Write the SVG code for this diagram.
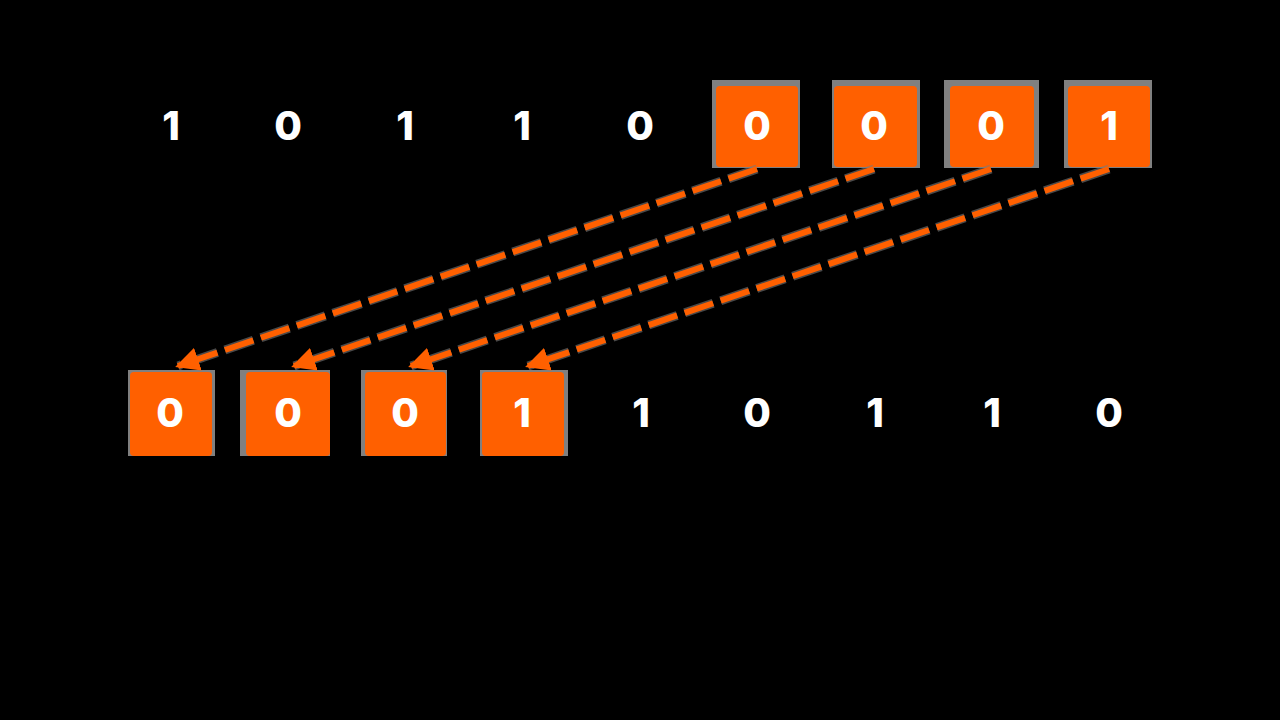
<svg xmlns="http://www.w3.org/2000/svg" width="1280" height="720" viewBox="0 0 1280 720">
<defs>
<style>
.bg{fill:#000}
.sh{fill:#808080}
.box{fill:#ff6000}
.t{font-family:Inter,"DejaVu Sans",sans-serif;font-weight:800;font-size:40px;fill:#fff;text-anchor:middle}
.ln{stroke:#ff6000;stroke-width:6;fill:none;stroke-dasharray:30 8}
.lns{stroke:#7a7a7a;stroke-width:9;fill:none;stroke-dasharray:30 8;opacity:0.6}
</style>
<marker id="ah" markerWidth="4" markerHeight="4" refX="3.5" refY="2" orient="auto" markerUnits="strokeWidth">
<path d="M0,0 L4,2 L0,4 Z" fill="#ff6000"/>
</marker>
</defs>
<rect class="bg" x="0" y="0" width="1280" height="720"/>
<g id="top-row">
<g id="t1"><text class="t" x="171" y="140">1</text></g>
<g id="t2"><text class="t" x="288" y="140">0</text></g>
<g id="t3"><text class="t" x="405" y="140">1</text></g>
<g id="t4"><text class="t" x="522" y="140">1</text></g>
<g id="t5"><text class="t" x="640" y="140">0</text></g>
<g id="t6"><rect class="sh" x="712" y="80" width="88" height="88"/><rect class="box" x="716" y="86" width="82" height="81" rx="4"/><text class="t" x="757" y="140">0</text></g>
<g id="t7"><rect class="sh" x="832" y="80" width="88" height="88"/><rect class="box" x="834" y="86" width="83" height="81" rx="4"/><text class="t" x="874" y="140">0</text></g>
<g id="t8"><rect class="sh" x="944" y="80" width="95" height="88"/><rect class="box" x="950" y="86" width="84" height="81" rx="4"/><text class="t" x="991" y="140">0</text></g>
<g id="t9"><rect class="sh" x="1064" y="80" width="88" height="88"/><rect class="box" x="1068" y="86" width="82" height="81" rx="4"/><text class="t" x="1109" y="140">1</text></g>
</g>
<g id="bottom-row">
<g id="b1"><rect class="sh" x="128" y="370" width="87" height="86"/><rect class="box" x="130" y="372" width="82" height="84" rx="4"/><text class="t" x="170" y="427">0</text></g>
<g id="b2"><rect class="sh" x="240" y="370" width="90" height="86"/><rect class="box" x="246" y="372" width="84" height="84" rx="4"/><text class="t" x="288" y="427">0</text></g>
<g id="b3"><rect class="sh" x="361" y="370" width="86" height="86"/><rect class="box" x="365" y="372" width="81" height="84" rx="4"/><text class="t" x="405" y="427">0</text></g>
<g id="b4"><rect class="sh" x="480" y="370" width="88" height="86"/><rect class="box" x="482" y="372" width="82" height="84" rx="4"/><text class="t" x="522" y="427">1</text></g>
<g id="b5"><text class="t" x="641" y="427">1</text></g>
<g id="b6"><text class="t" x="757" y="427">0</text></g>
<g id="b7"><text class="t" x="875" y="427">1</text></g>
<g id="b8"><text class="t" x="992" y="427">1</text></g>
<g id="b9"><text class="t" x="1109" y="427">0</text></g>
</g>
<g id="connectors">
<line class="lns" x1="757" y1="169" x2="178" y2="366"/>
<line class="lns" x1="874" y1="169" x2="294" y2="366"/>
<line class="lns" x1="991" y1="169" x2="411" y2="366"/>
<line class="lns" x1="1109" y1="169" x2="528" y2="366"/>
<line class="ln" x1="757" y1="169" x2="178" y2="366" marker-end="url(#ah)"/>
<line class="ln" x1="874" y1="169" x2="294" y2="366" marker-end="url(#ah)"/>
<line class="ln" x1="991" y1="169" x2="411" y2="366" marker-end="url(#ah)"/>
<line class="ln" x1="1109" y1="169" x2="528" y2="366" marker-end="url(#ah)"/>
</g>
</svg>
